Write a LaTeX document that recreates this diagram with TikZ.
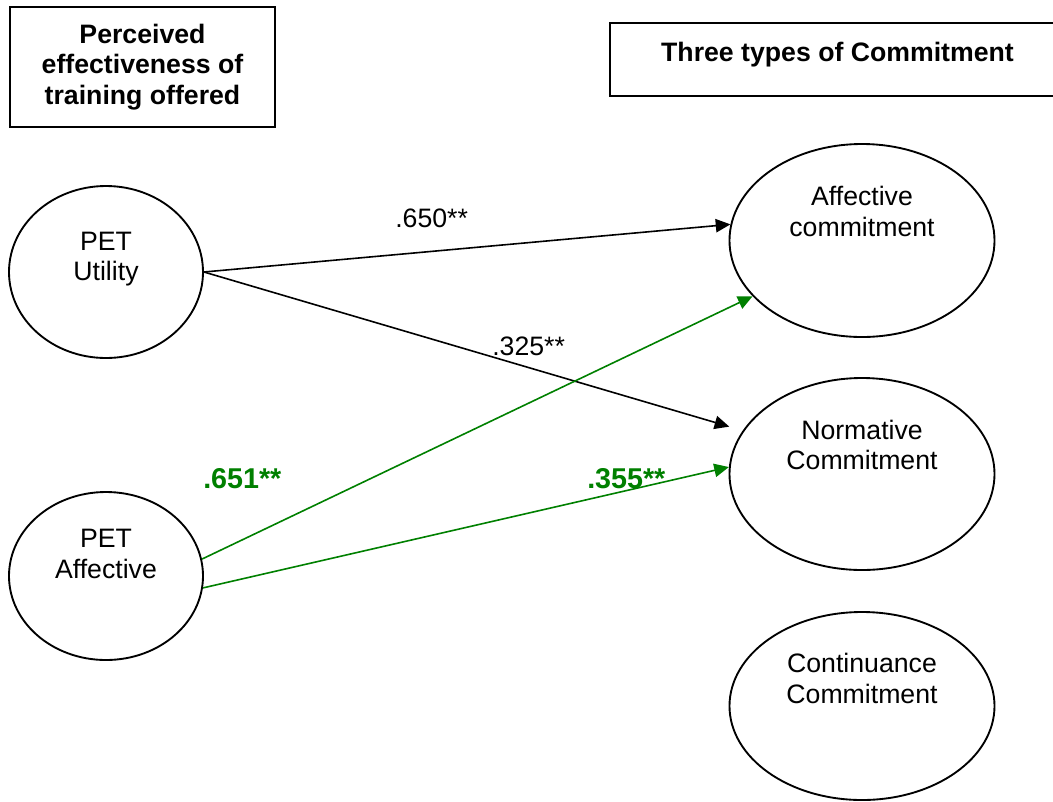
\documentclass[tikz,border=0pt]{standalone}
\usepackage{fontspec}
\setmainfont{Liberation Sans}
\usetikzlibrary{shapes.geometric,arrows.meta}
\definecolor{pathGreen}{RGB}{0,128,0}

\begin{document}
\begin{tikzpicture}
[x=0.75pt,y=-0.75pt,
  factorOval/.style={shape=ellipse,draw,line width=1.4pt,inner sep=0pt},%
  titleBox/.style={shape=rectangle,draw,line width=1.4pt,font=\fontsize{20}{23}\selectfont\bfseries,align=center},%
  ovalText/.style={font=\fontsize{20}{23}\selectfont,align=center},%
  blackPath/.style={-{Triangle[length=11pt,width=10pt]},line width=1.2pt},%
  greenPath/.style={blackPath,color=pathGreen},%
  blackCoef/.style={font=\fontsize{20}{23}\selectfont,anchor=base west,inner sep=0pt},%
  greenCoef/.style={font=\fontsize{21.5}{25}\selectfont\bfseries,text=pathGreen,anchor=base west,inner sep=0pt}]
\useasboundingbox (0,0) rectangle (1053,801);
%% the two title boxes
\node (trainBox) at (142.5,67) [titleBox,minimum width=198.75pt,minimum height=90pt]
  {Perceived\\effectiveness of\\training offered};
\node (typesBox) at (837.5,59.5) [titleBox,minimum width=341.25pt,minimum height=54.75pt,text depth=12pt]
  {Three types of Commitment};
%% draw the ovals
\foreach \nodename/\x/\y/\w/\h in {util/106/272/145.5/129, aff/106/576/145.5/126,
  affC/862/240.5/198.75/144.75, normC/862/474/198.75/144, contC/862/706/198.75/141}
{
  \node (\nodename) at (\x,\y) [factorOval,minimum width=\w pt,minimum height=\h pt] {};
}
%% the oval texts
\foreach \nodename/\x/\y/\txt in {utilText/106/259/PET\\Utility, affText/106/554/PET\\Affective,
  affCText/862/211.5/Affective\\commitment, normCText/862/445/Normative\\Commitment,
  contCText/862/678.5/Continuance\\Commitment}
{
  \node (\nodename) at (\x,\y) [ovalText] {\txt};
}
%% draw the paths
\draw[blackPath] (util.east) -- (affC.173);
\draw[blackPath,shorten >=10.5pt] (util.east) -- (normC.160);
\draw[greenPath] (aff.10) -- (affC.207);
\draw[greenPath] (aff.-7) -- (normC.177);
%% the coefficients
\node (coefUtilAff) at (395,227) [blackCoef] {.650**};
\node (coefUtilNorm) at (492,355) [blackCoef] {.325**};
\node (coefAffAff) at (203,488) [greenCoef] {.651**};
\node (coefAffNorm) at (587,488) [greenCoef] {.355**};
\end{tikzpicture}
\end{document}
